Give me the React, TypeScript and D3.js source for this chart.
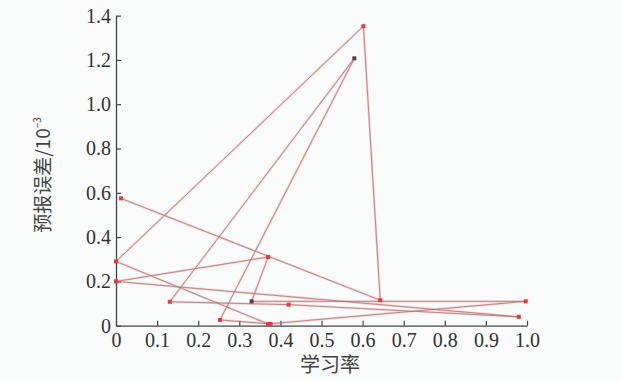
import React, { useEffect, useRef } from 'react';
import * as d3 from 'd3';

// evaluation order of the learning-rate search (x = 学习率, y = 预报误差 / 1e-3)
const learningRates = [0.012, 0.643, 0.602, 0, 0.37, 0.997, 0.33, 0.37, 0, 0.98, 0.42, 0.131, 0.58, 0.253, 0.376];
const errors = [0.575, 0.115, 1.352, 0.29, 0.008, 0.11, 0.11, 0.31, 0.2, 0.04, 0.095, 0.108, 1.207, 0.026, 0.008];
const darkMarkers = [6, 12];

const xTicks = [0, 0.1, 0.2, 0.3, 0.4, 0.5, 0.6, 0.7, 0.8, 0.9, 1.0];
const yTicks = [0, 0.2, 0.4, 0.6, 0.8, 1.0, 1.2, 1.4];

const width = 621;
const height = 381;
const left = 116;
const right = 527;
const top = 15.6;
const bottom = 325.7;
const serif = '"Liberation Serif", "Times New Roman", "DejaVu Serif", serif';

const App = () => {
  const xAxisRef = useRef<SVGGElement>(null);
  const yAxisRef = useRef<SVGGElement>(null);

  const x = d3.scaleLinear().domain([0, 1]).range([left, right]);
  const y = d3.scaleLinear().domain([0, 1.4]).range([bottom, top]);

  const pts = learningRates.map((lr, i) => [lr, errors[i]] as [number, number]);
  const line = d3.line<[number, number]>().x((d) => x(d[0])).y((d) => y(d[1]));

  useEffect(() => {
    const fmt = (d: d3.NumberValue) => (+d === 0 ? '0' : d3.format('.1f')(d));
    const gx = d3.select(xAxisRef.current!);
    gx.call(d3.axisBottom(x).tickValues(xTicks).tickFormat(fmt).tickSize(-5).tickPadding(7).tickSizeOuter(0));
    const gy = d3.select(yAxisRef.current!);
    gy.call(d3.axisLeft(y).tickValues(yTicks).tickFormat(fmt).tickSize(-5).tickPadding(5).tickSizeOuter(0));
    [gx, gy].forEach((g) => {
      g.attr('font-family', serif).attr('font-size', 20);
      g.selectAll('path').attr('stroke', '#444').attr('stroke-width', 1.3);
      g.selectAll('line').attr('stroke', '#444').attr('stroke-width', 1.2);
      g.selectAll('text').attr('fill', '#333').attr('font-family', serif).attr('font-size', 20);
    });
  }, []);

  return (
    <svg width={width} height={height} style={{ position: 'absolute', left: 0, top: 0, background: '#fafbfb' }}>
      <g ref={xAxisRef} transform={`translate(0,${bottom})`} />
      <g ref={yAxisRef} transform={`translate(${left},0)`} />
      <path d={line(pts) || ''} fill="none" stroke="#f06a6a" strokeWidth={2.4} strokeOpacity={0.28} />
      <path d={line(pts) || ''} fill="none" stroke="#9a6466" strokeWidth={0.8} strokeOpacity={0.85} />
      {pts.map((d, i) => (
        <rect
          key={i}
          x={x(d[0]) - 2}
          y={y(d[1]) - 2}
          width={4}
          height={4}
          fill={darkMarkers.includes(i) ? '#5a3a3c' : '#e5393b'}
        />
      ))}
      <text
        transform="translate(50,175) rotate(-90)"
        textAnchor="middle"
        fill="#444"
        fontFamily='"Noto Sans CJK SC", sans-serif'
        fontSize={19}
      >
        预报误差/10
        <tspan dy={-9} fontSize={10}>−3</tspan>
      </text>
      <text
        x={330}
        y={372}
        textAnchor="middle"
        fill="#444"
        fontFamily='"Noto Sans CJK SC", sans-serif'
        fontSize={20}
      >
        学习率
      </text>
    </svg>
  );
};

export default App;
